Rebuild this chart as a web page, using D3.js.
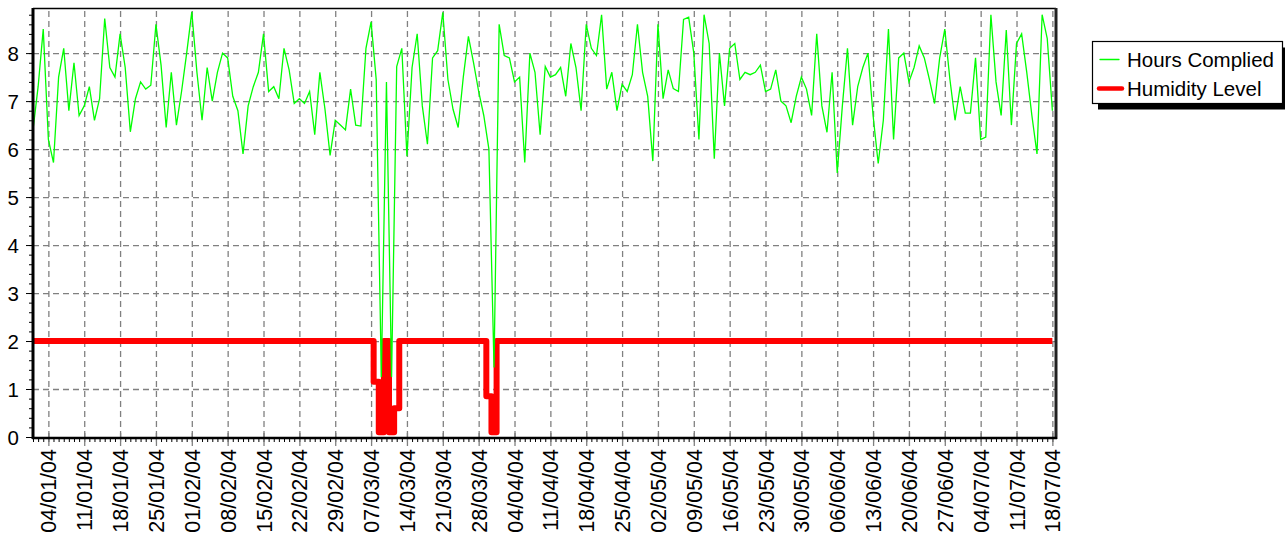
<!DOCTYPE html>
<html>
<head>
<meta charset="utf-8">
<script src="https://cdn.jsdelivr.net/npm/d3@7"></script>
<style>
  html, body { margin: 0; padding: 0; background: #fff; }
  svg { display: block; }
  text { font-family: "Liberation Sans", Arial, sans-serif; }
</style>
</head>
<body>
<svg id="chart" width="1285" height="533"></svg>
<script>
// ---------- DATA ----------
const startDate = "2004-01-01";

const hoursComplied = [
  6.4, 7.3, 8.5, 6.2, 5.72, 7.5, 8.1, 6.8, 7.8, 6.7,
  6.9, 7.3, 6.6, 7.05, 8.72, 7.7, 7.5, 8.4, 7.7, 6.36,
  7.05, 7.4, 7.25, 7.33, 8.6, 7.75, 6.45, 7.6, 6.5, 7.2,
  8.0, 8.86, 7.6, 6.6, 7.7, 7.0, 7.6, 8.0, 7.9, 7.1,
  6.8, 5.9, 6.9, 7.3, 7.6, 8.4, 7.2, 7.3, 7.05, 8.1,
  7.65, 6.95, 7.05, 6.95, 7.2, 6.3, 7.6, 6.83, 5.87, 6.6,
  6.5, 6.4, 7.25, 6.5, 6.48, 8.1, 8.65, 7.45, 1.25, 7.4,
  1.25, 7.72, 8.1, 5.85, 7.7, 8.4, 6.9, 6.1, 7.9, 8.05,
  8.85, 7.45, 6.83, 6.45, 7.5, 8.35, 7.8, 7.2, 6.7, 6.0,
  1.45, 8.6, 7.95, 7.9, 7.4, 7.5, 5.72, 8.0, 7.6, 6.3,
  7.72, 7.5, 7.55, 7.7, 7.1, 8.2, 7.7, 6.8, 8.6, 8.1,
  7.95, 8.8, 7.25, 7.6, 6.8, 7.35, 7.2, 7.55, 8.6, 7.6,
  7.1, 5.75, 8.6, 7.05, 7.65, 7.26, 7.2, 8.7, 8.75, 8.0,
  6.2, 8.8, 8.2, 5.8, 8.0, 6.9, 8.1, 8.2, 7.45, 7.6,
  7.55, 7.6, 7.75, 7.2, 7.25, 7.65, 7.0, 6.9, 6.55, 7.1,
  7.5, 7.25, 6.7, 8.4, 6.9, 6.35, 7.6, 5.5, 6.9, 8.1,
  6.5, 7.3, 7.7, 8.0, 6.7, 5.7, 6.6, 8.5, 6.2, 7.9,
  8.0, 7.4, 7.7, 8.15, 7.9, 7.45, 6.95, 7.9, 8.5, 7.45,
  6.6, 7.3, 6.75, 6.75, 7.9, 6.2, 6.25, 8.8, 7.4, 6.7,
  8.48, 6.5, 8.2, 8.4, 7.6, 6.7, 5.9, 8.8, 8.3, 6.8
];

const humidityLevel = [
  2, 2, 2, 2, 2, 2, 2, 2, 2, 2,
  2, 2, 2, 2, 2, 2, 2, 2, 2, 2,
  2, 2, 2, 2, 2, 2, 2, 2, 2, 2,
  2, 2, 2, 2, 2, 2, 2, 2, 2, 2,
  2, 2, 2, 2, 2, 2, 2, 2, 2, 2,
  2, 2, 2, 2, 2, 2, 2, 2, 2, 2,
  2, 2, 2, 2, 2, 2, 2, 1.15, 0.1, 2,
  0.1, 0.6, 2, 2, 2, 2, 2, 2, 2, 2,
  2, 2, 2, 2, 2, 2, 2, 2, 2, 0.85,
  0.1, 2, 2, 2, 2, 2, 2, 2, 2, 2,
  2, 2, 2, 2, 2, 2, 2, 2, 2, 2,
  2, 2, 2, 2, 2, 2, 2, 2, 2, 2,
  2, 2, 2, 2, 2, 2, 2, 2, 2, 2,
  2, 2, 2, 2, 2, 2, 2, 2, 2, 2,
  2, 2, 2, 2, 2, 2, 2, 2, 2, 2,
  2, 2, 2, 2, 2, 2, 2, 2, 2, 2,
  2, 2, 2, 2, 2, 2, 2, 2, 2, 2,
  2, 2, 2, 2, 2, 2, 2, 2, 2, 2,
  2, 2, 2, 2, 2, 2, 2, 2, 2, 2,
  2, 2, 2, 2, 2, 2, 2, 2, 2, 2
];

const xTickLabels = [
  "04/01/04", "11/01/04", "18/01/04", "25/01/04", "01/02/04", "08/02/04",
  "15/02/04", "22/02/04", "29/02/04", "07/03/04", "14/03/04", "21/03/04",
  "28/03/04", "04/04/04", "11/04/04", "18/04/04", "25/04/04", "02/05/04",
  "09/05/04", "16/05/04", "23/05/04", "30/05/04", "06/06/04", "13/06/04",
  "20/06/04", "27/06/04", "04/07/04", "11/07/04", "18/07/04"
];

const yTickLabels = [0, 1, 2, 3, 4, 5, 6, 7, 8];

const seriesNames = ["Hours Complied", "Humidity Level"];
const seriesColors = ["#00ff00", "#ff0000"];

// ---------- LAYOUT ----------
const plot = { left: 33, right: 1056, top: 8, bottom: 437 };
const svg = d3.select("#chart");

const t0 = d3.utcParse("%Y-%m-%d")(startDate);
const tEnd = d3.utcHour.offset(t0, 199 * 24 + 17);
const dates = hoursComplied.map((_, i) => d3.utcDay.offset(t0, i));
const parseTick = d3.utcParse("%d/%m/%y");
const tickDates = xTickLabels.map(parseTick);

const x = d3.scaleUtc().domain([t0, tEnd]).range([plot.left, plot.right]);
const y = d3.scaleLinear().domain([0, 8.94]).range([plot.bottom, plot.top]);

// ---------- GRID ----------
const gx = svg.append("g")
  .attr("transform", `translate(0,${plot.bottom})`)
  .call(d3.axisBottom(x).tickValues(tickDates).tickSize(-(plot.bottom - plot.top)).tickFormat(""));
gx.select(".domain").remove();
gx.selectAll("line").attr("stroke", "#808080").attr("stroke-width", 1.3).attr("stroke-dasharray", "6,4");

const gy = svg.append("g")
  .attr("transform", `translate(${plot.left},0)`)
  .call(d3.axisLeft(y).tickValues(yTickLabels.slice(1)).tickSize(-(plot.right - plot.left)).tickFormat(""));
gy.select(".domain").remove();
gy.selectAll("line").attr("stroke", "#808080").attr("stroke-width", 1.3).attr("stroke-dasharray", "6,4");

// ---------- SERIES ----------
const redData = dates.map((d, i) => ({ date: d, v: humidityLevel[i] }));
const greenData = dates.map((d, i) => ({ date: d, v: hoursComplied[i] }));

svg.append("path")
  .datum(redData)
  .attr("d", d3.line().x(d => x(d.date)).y(d => y(d.v)).curve(d3.curveStep))
  .attr("fill", "none")
  .attr("stroke", seriesColors[1])
  .attr("stroke-width", 6)
  .attr("stroke-linejoin", "round");

svg.append("path")
  .datum(greenData)
  .attr("d", d3.line().x(d => x(d.date)).y(d => y(d.v)))
  .attr("fill", "none")
  .attr("stroke", seriesColors[0])
  .attr("stroke-width", 1.3);

// ---------- FRAME ----------
svg.append("line").attr("x1", plot.left).attr("x2", plot.right).attr("y1", plot.top + 0.5).attr("y2", plot.top + 0.5)
  .attr("stroke", "#000").attr("stroke-width", 1.5);
svg.append("line").attr("x1", plot.right).attr("x2", plot.right).attr("y1", plot.top).attr("y2", plot.bottom + 2)
  .attr("stroke", "#222").attr("stroke-width", 3);

// ---------- AXES ----------
const mx = svg.append("g")
  .attr("transform", `translate(0,${plot.bottom + 1})`)
  .call(d3.axisBottom(x).tickValues(d3.utcDay.range(t0, tEnd)).tickSize(4).tickFormat(""));
mx.select(".domain").remove();
mx.selectAll("line").attr("stroke", "#000").attr("stroke-width", 1);

const ax = svg.append("g")
  .attr("transform", `translate(0,${plot.bottom + 1})`)
  .call(d3.axisBottom(x).tickValues(tickDates).tickSize(8).tickFormat((d, i) => xTickLabels[i]));
ax.select(".domain").remove();
ax.selectAll(".tick line").attr("stroke", "#808080").attr("stroke-width", 1.3).attr("y1", -5);
ax.selectAll(".tick text")
  .attr("font-size", 21.5)
  .attr("fill", "#000")
  .attr("text-anchor", "end")
  .attr("transform", "translate(7.5,11) rotate(-90)")
  .attr("x", 0).attr("y", 0).attr("dy", 0);

const my = svg.append("g")
  .attr("transform", `translate(${plot.left},0)`)
  .call(d3.axisLeft(y).tickValues(d3.range(0, 8.9, 0.2)).tickSize(4).tickFormat(""));
my.select(".domain").remove();
my.selectAll("line").attr("stroke", "#000");

const ay = svg.append("g")
  .attr("transform", `translate(${plot.left},0)`)
  .call(d3.axisLeft(y).tickValues(yTickLabels).tickSize(7).tickFormat(d3.format("d")));
ay.select(".domain").remove();
ay.selectAll(".tick line").attr("stroke", "#000");
ay.selectAll(".tick text")
  .attr("font-size", 20.5)
  .attr("fill", "#000")
  .attr("x", -14)
  .attr("dy", "0.36em");

svg.append("line").attr("x1", plot.left).attr("x2", plot.left).attr("y1", plot.top).attr("y2", plot.bottom + 2)
  .attr("stroke", "#000").attr("stroke-width", 3);
svg.append("line").attr("x1", plot.left - 1).attr("x2", plot.right + 1).attr("y1", plot.bottom + 1).attr("y2", plot.bottom + 1)
  .attr("stroke", "#000").attr("stroke-width", 2.5);

// ---------- LEGEND ----------
const lg = svg.append("g");
lg.append("rect").attr("x", 1098).attr("y", 47.5).attr("width", 190).attr("height", 62).attr("fill", "#000");
lg.append("rect").attr("x", 1092.5).attr("y", 41.5).attr("width", 190).attr("height", 62)
  .attr("fill", "#fff").attr("stroke", "#000").attr("stroke-width", 1.2);

const legendRows = [
  { name: seriesNames[0], color: seriesColors[0], w: 1.3, x1: 1100, x2: 1119, cy: 59.5, ty: 66.5 },
  { name: seriesNames[1], color: seriesColors[1], w: 4.5, x1: 1099, x2: 1122, cy: 88.5, ty: 95.5 }
];
legendRows.forEach(r => {
  lg.append("line").attr("x1", r.x1).attr("x2", r.x2).attr("y1", r.cy).attr("y2", r.cy)
    .attr("stroke", r.color).attr("stroke-width", r.w).attr("stroke-linecap", "round");
  lg.append("text").attr("x", 1127).attr("y", r.ty).attr("font-size", 20.5).attr("fill", "#000").text(r.name);
});
</script>
</body>
</html>
